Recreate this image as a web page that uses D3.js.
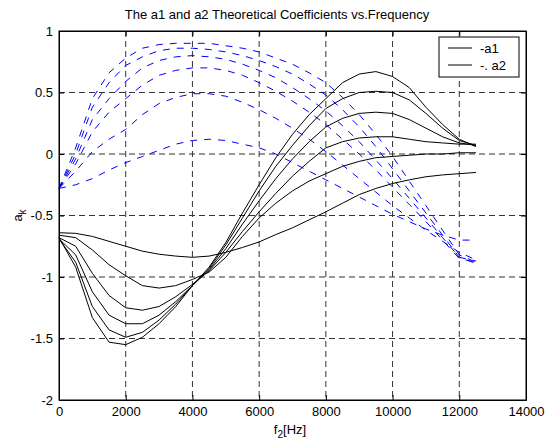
<!DOCTYPE html>
<html>
<head>
<meta charset="utf-8">
<script src="https://cdn.jsdelivr.net/npm/d3@7"></script>
<style>
  body { margin: 0; background: #fff; }
  text { font-family: "Liberation Sans", Arial, sans-serif; fill: #000; }
</style>
</head>
<body>
<svg id="chart" width="550" height="443"></svg>
<script>
// frequency grid (Hz), 500 Hz steps
var freqs = d3.range(0, 12501, 500);

// -a1 curves (black solid)
var a1Curves = [
  [-0.64,-0.645,-0.67,-0.71,-0.75,-0.79,-0.815,-0.83,-0.84,-0.83,-0.80,-0.76,-0.715,-0.655,-0.60,-0.535,-0.47,-0.40,-0.33,-0.28,-0.24,-0.21,-0.185,-0.17,-0.16,-0.15],
  [-0.66,-0.68,-0.78,-0.90,-0.99,-1.07,-1.09,-1.07,-1.02,-0.96,-0.84,-0.67,-0.52,-0.40,-0.30,-0.22,-0.16,-0.10,-0.06,-0.03,-0.02,-0.01,0.0,0.0,0.01,0.01],
  [-0.68,-0.75,-0.97,-1.15,-1.25,-1.27,-1.24,-1.16,-1.06,-0.95,-0.80,-0.63,-0.47,-0.32,-0.18,-0.06,0.05,0.10,0.13,0.14,0.14,0.12,0.10,0.09,0.08,0.08],
  [-0.69,-0.82,-1.12,-1.31,-1.38,-1.38,-1.31,-1.20,-1.07,-0.94,-0.77,-0.57,-0.38,-0.20,-0.04,0.10,0.22,0.29,0.33,0.34,0.33,0.28,0.21,0.14,0.09,0.07],
  [-0.69,-0.88,-1.24,-1.43,-1.49,-1.45,-1.35,-1.22,-1.07,-0.93,-0.74,-0.52,-0.30,-0.10,0.07,0.23,0.37,0.45,0.50,0.51,0.50,0.44,0.33,0.21,0.11,0.07],
  [-0.68,-0.92,-1.33,-1.53,-1.55,-1.49,-1.38,-1.24,-1.07,-0.92,-0.72,-0.48,-0.25,-0.03,0.16,0.32,0.45,0.58,0.65,0.67,0.63,0.54,0.38,0.24,0.12,0.06]
];

// a2 curves (blue dash-dot)
var a2Curves = [
  [-0.28,0.05,0.45,0.66,0.78,0.86,0.89,0.90,0.90,0.90,0.88,0.86,0.83,0.78,0.73,0.66,0.58,0.46,0.32,0.16,-0.02,-0.22,-0.42,-0.62,-0.82,-0.88],
  [-0.28,0.0,0.38,0.58,0.72,0.79,0.84,0.86,0.86,0.85,0.83,0.80,0.76,0.71,0.65,0.57,0.48,0.36,0.22,0.06,-0.12,-0.30,-0.48,-0.66,-0.84,-0.89],
  [-0.28,-0.04,0.28,0.45,0.59,0.70,0.76,0.79,0.80,0.79,0.77,0.73,0.68,0.62,0.54,0.45,0.35,0.23,0.10,-0.05,-0.20,-0.36,-0.52,-0.68,-0.84,-0.87],
  [-0.28,-0.08,0.18,0.34,0.45,0.56,0.64,0.68,0.70,0.70,0.68,0.64,0.58,0.51,0.43,0.34,0.24,0.12,0.0,-0.13,-0.27,-0.41,-0.55,-0.70,-0.85,-0.88],
  [-0.28,-0.14,0.02,0.12,0.20,0.32,0.41,0.46,0.49,0.49,0.47,0.42,0.36,0.29,0.21,0.12,0.02,-0.09,-0.20,-0.31,-0.42,-0.52,-0.62,-0.71,-0.80,-0.86],
  [-0.28,-0.25,-0.20,-0.13,-0.07,-0.02,0.03,0.08,0.11,0.12,0.11,0.08,0.05,0.0,-0.07,-0.14,-0.21,-0.28,-0.35,-0.42,-0.49,-0.55,-0.61,-0.66,-0.70,-0.70]
];

var xTicks = [0, 2000, 4000, 6000, 8000, 10000, 12000, 14000];
var yTicks = [-2, -1.5, -1, -0.5, 0, 0.5, 1];
var legendLabels = ["-a1", "-. a2"];

var margin = {top: 31, right: 24, bottom: 43, left: 59},
    width = 550 - margin.left - margin.right,
    height = 443 - margin.top - margin.bottom;

var svg = d3.select("#chart");
var g = svg.append("g")
    .attr("transform", "translate(" + margin.left + "," + margin.top + ")");

var x = d3.scaleLinear().domain([0, 14000]).range([0, width]);
var y = d3.scaleLinear().domain([-2, 1]).range([height, 0]);

// grid
g.selectAll(".vgrid")
    .data(xTicks.slice(1, -1))
  .enter().append("line")
    .attr("x1", function(d) { return x(d); })
    .attr("x2", function(d) { return x(d); })
    .attr("y1", 0).attr("y2", height)
    .attr("stroke", "#333").attr("stroke-dasharray", "6,4");
g.selectAll(".hgrid")
    .data(yTicks.slice(1, -1))
  .enter().append("line")
    .attr("y1", function(d) { return y(d); })
    .attr("y2", function(d) { return y(d); })
    .attr("x1", 0).attr("x2", width)
    .attr("stroke", "#333").attr("stroke-dasharray", "6,4");

var line = d3.line()
    .x(function(d, i) { return x(freqs[i]); })
    .y(function(d) { return y(d); });

g.selectAll(".a2")
    .data(a2Curves)
  .enter().append("path")
    .attr("d", line)
    .attr("fill", "none")
    .attr("stroke", "#0000ff")
    .attr("stroke-width", 1)
    .attr("stroke-dasharray", "7,7");

g.selectAll(".a1")
    .data(a1Curves)
  .enter().append("path")
    .attr("d", line)
    .attr("fill", "none")
    .attr("stroke", "#000")
    .attr("stroke-width", 1);

// axes (MATLAB style: ticks inside, box)
var xAxis = d3.axisBottom(x).tickValues(xTicks).tickSize(-5).tickPadding(7).tickFormat(d3.format("d"));
var yAxis = d3.axisLeft(y).tickValues(yTicks).tickSize(-5).tickPadding(6).tickFormat(function(d) { return d; });

var gx = g.append("g").attr("transform", "translate(0," + height + ")").call(xAxis);
var gy = g.append("g").call(yAxis);
g.append("g").call(d3.axisTop(x).tickValues(xTicks).tickSize(-5).tickFormat(""));
g.append("g").attr("transform", "translate(" + width + ",0)")
    .call(d3.axisRight(y).tickValues(yTicks).tickSize(-5).tickFormat(""));

g.selectAll(".domain").attr("stroke", "#000");
g.selectAll(".tick line").attr("stroke", "#000");
g.selectAll(".tick text").style("font-size", "13px").attr("fill", "#000");

g.append("rect")
    .attr("width", width).attr("height", height)
    .attr("fill", "none").attr("stroke", "#000");

// title and labels
svg.append("text")
    .attr("x", 277).attr("y", 19)
    .attr("text-anchor", "middle")
    .style("font-size", "13px")
    .text("The a1 and a2 Theoretical Coefficients vs.Frequency");

var xl = svg.append("text")
    .attr("x", 290).attr("y", 434)
    .attr("text-anchor", "middle")
    .style("font-size", "13px");
xl.append("tspan").text("f");
xl.append("tspan").attr("dy", 4).style("font-size", "10px").text("2");
xl.append("tspan").attr("dy", -4).text("[Hz]");

var yl = svg.append("text")
    .attr("transform", "translate(22," + (margin.top + height / 2) + ") rotate(-90)")
    .attr("text-anchor", "middle")
    .style("font-size", "13px");
yl.append("tspan").text("a");
yl.append("tspan").attr("dy", 4).style("font-size", "10px").text("k");

// legend
var lg = g.append("g").attr("transform", "translate(" + (width - 87) + ",6)");
lg.append("rect")
    .attr("width", 80).attr("height", 40)
    .attr("fill", "#fff").attr("stroke", "#000");
lg.selectAll(".item")
    .data(legendLabels)
  .enter().append("g")
    .attr("transform", function(d, i) { return "translate(0," + (11 + i * 17) + ")"; })
    .each(function(d) {
      var it = d3.select(this);
      it.append("line").attr("x1", 9).attr("x2", 33).attr("stroke", "#000");
      it.append("text").attr("x", 41).attr("dy", "0.35em")
        .style("font-size", "13px").text(d);
    });
</script>
</body>
</html>
